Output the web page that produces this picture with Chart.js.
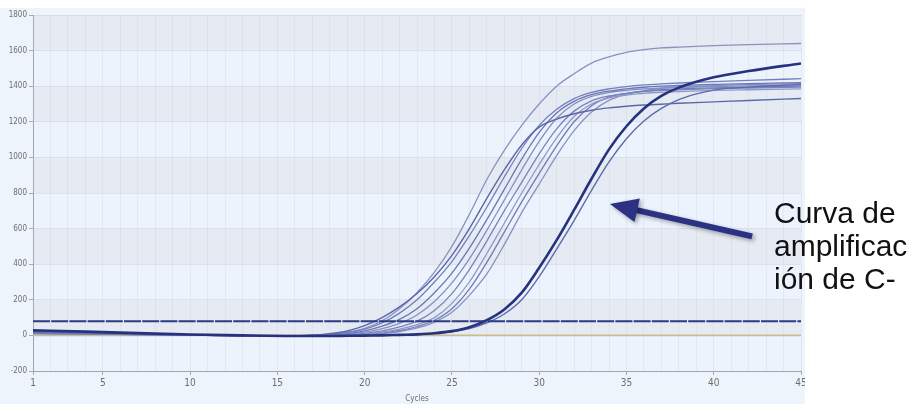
<!DOCTYPE html>
<html>
<head>
<meta charset="utf-8">
<script src="https://cdn.jsdelivr.net/npm/chart.js@4/dist/chart.umd.min.js"></script>
<style>
  html, body { margin: 0; padding: 0; background: #ffffff; }
  #wrap { position: relative; width: 912px; height: 411px; overflow: hidden; }
  #bg { position: absolute; left: 0; top: 8px; width: 805px; height: 396px; background: #eef4fc; }
  #c { position: absolute; left: 0; top: 0; }
  #clip { position: absolute; left: 805px; top: 0; width: 107px; height: 411px; background: #ffffff; }
  #note { position: absolute; left: 774px; top: 196px; font-family: "Liberation Sans", Arial, sans-serif;
          font-size: 30px; line-height: 33px; color: #111; white-space: nowrap; }
</style>
</head>
<body>
<div id="wrap">
  <div id="bg"></div>
  <canvas id="c" width="912" height="411"></canvas>
  <div id="clip"></div>
  <div id="note">Curva de<br>amplificac<br>ión de C-</div>
</div>
<script>
// ---- data ----
const cycles = [1,4,7,10,13,16,17,18,19,20,21,22,23,24,25,26,27,28,29,30,31,32,33,34,35,36,37,38,40,42,45];

const sampleT  = [10,7,4,1,-2,-3, 0,6,18,40,82,150,240,355,500,680,876,1040,1180,1300,1400,1470,1530,1565,1590,1605,1615,1620, 1628,1634,1640];
const sampleE1 = [24,18,11,4,-1,-3, 2,10,25,55,100,160,235,330,450,600,770,930,1070,1170,1215,1245,1265,1278,1287,1294,1299,1304, 1312,1320,1331];
const sampleE2 = [18,14,8,3,-1,-3, 0,5,15,35,70,125,200,300,415,560,720,890,1050,1180,1270,1330,1365,1385,1398,1407,1413,1418, 1426,1433,1442];
const sampleE3 = [14,10,6,2,-2,-4, -2,3,10,25,52,90,150,240,350,490,650,820,990,1140,1250,1315,1352,1372,1385,1394,1400,1404, 1410,1415,1420];
const sampleE4 = [20,15,9,3,-1,-3, -1,2,7,18,38,68,115,190,295,430,590,760,930,1090,1220,1300,1343,1365,1377,1385,1390,1394, 1398,1402,1406];
const sampleE5 = [10,8,5,1,-2,-4, -2,1,4,11,25,48,80,140,235,370,530,700,860,1020,1160,1260,1318,1345,1360,1370,1376,1380, 1386,1390,1395];
const sampleE6 = [16,12,7,2,-2,-4, -3,-1,3,8,18,35,60,100,180,300,460,630,800,960,1110,1230,1300,1335,1350,1360,1366,1370, 1376,1380,1385];
const sampleE7 = [12,9,5,1,-2,-4, -3,-2,2,6,14,28,50,85,150,260,410,580,750,910,1065,1200,1290,1338,1360,1372,1380,1385, 1391,1395,1400];
const sampleE8 = [22,16,10,3,-1,-3, -3,-2,1,4,10,22,42,75,130,225,345,510,690,850,1010,1150,1255,1320,1355,1375,1388,1395, 1403,1409,1415];
const sampleL2 = [20,15,9,3,-1,-3, -3,-3,-2,-1,0,2,5,10,20,38,70,120,200,330,485,645,815,975,1105,1205,1275,1325, 1378,1395,1410];
const negativeControl = [28,21,13,5,0,-3, -3,-3,-2,-1,0,3,6,12,24,46,85,145,240,380,535,705,880,1045,1175,1275,1345,1392, 1450,1485,1528];

const thresholdValue = 80;
const baselineValue = 0;
const xTickLabels = [1,5,10,15,20,25,30,35,40,45];
const yMin = -200, yMax = 1800, yStep = 200;
const xTitle = "Cycles";

// ---- build datasets ----
function series(values, color, width) {
  return {
    data: cycles.map((c, i) => ({ x: c, y: values[i] })),
    borderColor: color, borderWidth: width, pointRadius: 0,
    cubicInterpolationMode: 'monotone', fill: false
  };
}
function flat(value, color, width, dash) {
  return {
    data: [{ x: cycles[0], y: value }, { x: cycles[cycles.length - 1], y: value }],
    borderColor: color, borderWidth: width, pointRadius: 0, borderDash: dash || [], fill: false
  };
}

const datasets = [
  flat(thresholdValue, '#2d3a84', 2, [17, 1.2]),
  series(negativeControl, '#27327e', 2.6),
  series(sampleL2, '#5d6bae', 1.4),
  series(sampleE1, '#5a68aa', 1.4),
  series(sampleE2, '#7480ba', 1.3),
  series(sampleE3, '#6a77b4', 1.3),
  series(sampleE4, '#8390c4', 1.3),
  series(sampleE5, '#7884bd', 1.3),
  series(sampleE6, '#8d99c8', 1.3),
  series(sampleE7, '#6f7cb7', 1.3),
  series(sampleE8, '#8591c3', 1.3),
  series(sampleT,  '#8793c2', 1.3),
  flat(baselineValue, '#c9bc8e', 1.6)
];

// ---- plugins ----
const bands = {
  id: 'bands',
  beforeDraw(chart) {
    const { ctx, chartArea: a } = chart;
    ctx.save();
    ctx.fillStyle = '#edf3fc';
    ctx.fillRect(a.left, a.top, a.right - a.left, a.bottom - a.top);
    ctx.restore();
  },
  beforeDatasetsDraw(chart) {
    const { ctx, chartArea: a, scales: { y } } = chart;
    ctx.save();
    ctx.fillStyle = 'rgba(200,205,215,0.22)';
    for (let v = 0; v < yMax; v += 2 * yStep) {
      const top = y.getPixelForValue(v + yStep), bot = y.getPixelForValue(v);
      ctx.fillRect(a.left, top, a.right - a.left, bot - top);
    }
    ctx.restore();
  }
};

const arrow = {
  id: 'arrow',
  afterDatasetsDraw(chart) {
    const { ctx, scales: { x, y } } = chart;
    const x1 = x.getPixelForValue(42.2), y1 = y.getPixelForValue(556);
    const x2 = x.getPixelForValue(34.05), y2 = y.getPixelForValue(738);
    const ang = Math.atan2(y2 - y1, x2 - x1);
    const headLen = 28, headHalf = 12;
    const bx = x2 - headLen * Math.cos(ang), by = y2 - headLen * Math.sin(ang);
    ctx.save();
    ctx.shadowColor = 'rgba(0,0,0,0.35)';
    ctx.shadowBlur = 4; ctx.shadowOffsetX = 2; ctx.shadowOffsetY = 2;
    ctx.strokeStyle = '#2b3283'; ctx.fillStyle = '#2b3283';
    ctx.lineWidth = 6;
    ctx.beginPath(); ctx.moveTo(x1, y1); ctx.lineTo(bx + 4 * Math.cos(ang), by + 4 * Math.sin(ang)); ctx.stroke();
    ctx.beginPath();
    ctx.moveTo(x2, y2);
    ctx.lineTo(bx + headHalf * Math.sin(ang), by - headHalf * Math.cos(ang));
    ctx.lineTo(bx - headHalf * Math.sin(ang), by + headHalf * Math.cos(ang));
    ctx.closePath(); ctx.fill();
    ctx.restore();
  }
};

const tickFont = { family: '"Liberation Sans Narrow", "DejaVu Sans Condensed", "Liberation Sans", sans-serif', size: 9 };

new Chart(document.getElementById('c'), {
  type: 'line',
  data: { datasets },
  options: {
    responsive: false, animation: false,
    layout: { padding: { left: 0, top: 15, right: 111, bottom: 7 } },
    plugins: { legend: { display: false }, tooltip: { enabled: false } },
    scales: {
      x: {
        type: 'linear', min: cycles[0], max: cycles[cycles.length - 1],
        afterFit(s) { s.height = 33; },
        ticks: {
          stepSize: 1, autoSkip: false, maxRotation: 0, padding: 2,
          color: '#6e6e6e', font: { ...tickFont, size: 10 },
          callback: v => xTickLabels.includes(v) ? String(v) : ''
        },
        grid: {
          color: '#e2e8f2', lineWidth: 1, tickLength: 4,
          tickColor: c => (c.tick && xTickLabels.includes(c.tick.value)) ? '#a5abb3' : 'rgba(0,0,0,0)'
        },
        border: { color: '#9ea5ae', width: 1 },
        title: { display: true, text: xTitle, color: '#6e6e6e', font: { ...tickFont, size: 8 }, padding: { top: 2, bottom: 0 } }
      },
      y: {
        min: yMin, max: yMax,
        afterFit(s) { s.width = 33; },
        ticks: { stepSize: yStep, padding: 2, color: '#6e6e6e', font: { ...tickFont, size: 8 },
                 callback: v => String(v) },
        grid: { color: '#dce3ed', tickLength: 4, tickColor: '#a5abb3' },
        border: { color: '#9ea5ae', width: 1 }
      }
    }
  },
  plugins: [bands, arrow]
});
</script>
</body>
</html>
